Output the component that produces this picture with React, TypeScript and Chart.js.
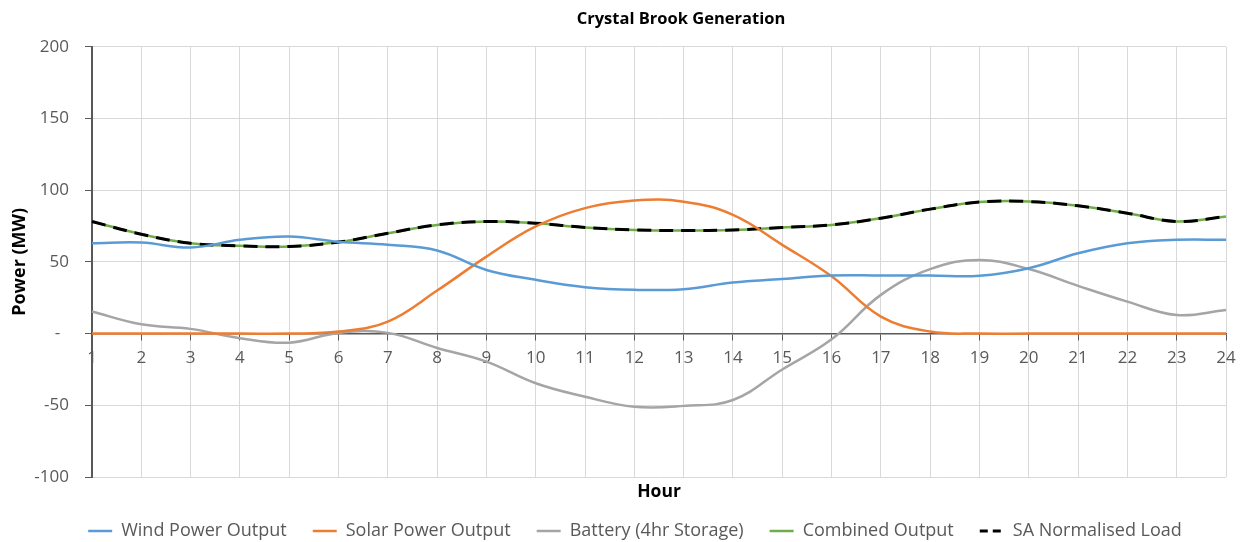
import React, { useEffect, useRef } from 'react';
import { Chart, registerables } from 'chart.js';

Chart.register(...registerables);

const hours = ['1', '2', '3', '4', '5', '6', '7', '8', '9', '10', '11', '12', '13', '14', '15', '16', '17', '18', '19', '20', '21', '22', '23', '24'];
const windOutput = [63, 63.5, 60, 65.4, 67.7, 64, 62, 58, 44.4, 37.5, 32.4, 30.5, 31, 35.6, 38, 40.5, 40.5, 40.5, 40.3, 45.6, 56, 63, 65.4, 65.4];
const solarOutput = [0, 0, 0, 0, 0, 1.4, 8.4, 30, 53.7, 74.7, 87.5, 92.8, 92, 82.8, 61.9, 40, 11.9, 1.4, 0, 0, 0, 0, 0, 0];
const batteryOutput = [15.4, 6.5, 3.3, -3.2, -6.3, 0.5, 0.5, -10, -19.5, -34.6, -44, -51, -50.4, -46.3, -25, -4, 27, 45, 51.4, 45, 33.3, 22.3, 13, 16.5];
const combinedOutput = [78.2, 69.3, 63, 61.2, 60.7, 63.8, 70, 75.8, 78.2, 77, 74, 72.3, 71.9, 72.3, 74, 75.8, 80.5, 86.8, 91.7, 92.1, 89.1, 84, 78.2, 81.6];
const saNormalisedLoad = [78.2, 69.3, 63, 61.2, 60.7, 63.8, 70, 75.8, 78.2, 77, 74, 72.3, 71.9, 72.3, 74, 75.8, 80.5, 86.8, 91.7, 92.1, 89.1, 84, 78.2, 81.6];

const FONT = "'Open Sans', 'DejaVu Sans', sans-serif";
const AXIS_GREY = '#595959';
const GRID_GREY = '#d9d9d9';

// Moves the title and legend boxes after Chart.js has laid them out,
// and writes the x-axis title ("Hour") under the plot.
const placementPlugin = {
  id: 'placement',
  afterLayout(chart: any) {
    const lg = chart.legend;
    if (lg) {
      lg.left += 22;
      lg.right += 22;
      lg.top += 8;
      lg.bottom += 8;
    }
    const tb = chart.titleBlock;
    if (tb) {
      tb.left += 68;
      tb.right += 68;
    }
  },
  afterDraw(chart: any) {
    const { ctx, chartArea } = chart;
    ctx.save();
    ctx.fillStyle = '#000000';
    ctx.font = `bold 17.5px ${FONT}`;
    ctx.textAlign = 'center';
    ctx.textBaseline = 'middle';
    ctx.fillText('Hour', (chartArea.left + chartArea.right) / 2, chartArea.bottom + 15);
    ctx.restore();
  },
};

export default function App() {
  const ref = useRef<HTMLCanvasElement>(null);

  useEffect(() => {
    if (!ref.current) return;
    const common = { borderWidth: 2.5, pointRadius: 0, pointHoverRadius: 0, tension: 0.4, fill: false };
    const chart = new Chart(ref.current, {
      type: 'line',
      data: {
        labels: hours,
        datasets: [
          { ...common, label: 'Wind Power Output', data: windOutput, borderColor: '#5B9BD5', backgroundColor: '#5B9BD5', order: 0 },
          { ...common, label: 'Solar Power Output', data: solarOutput, borderColor: '#ED7D31', backgroundColor: '#ED7D31', order: 0 },
          { ...common, label: 'Battery (4hr Storage)', data: batteryOutput, borderColor: '#A5A5A5', backgroundColor: '#A5A5A5', order: 0 },
          { ...common, label: 'Combined Output', data: combinedOutput, borderColor: '#70AD47', backgroundColor: '#70AD47', order: 1 },
          { ...common, label: 'SA Normalised Load', data: saNormalisedLoad, borderColor: '#000000', backgroundColor: '#000000', borderWidth: 3, borderDash: [14, 8], order: 0 },
        ],
      },
      options: {
        responsive: false,
        maintainAspectRatio: false,
        animation: false,
        events: [],
        layout: { padding: { left: 0, right: 26, top: 0, bottom: 0 } },
        plugins: {
          tooltip: { enabled: false },
          title: {
            display: true,
            text: 'Crystal Brook Generation',
            color: '#000000',
            font: { family: FONT, size: 16.5, weight: 'bold' },
            padding: { top: 9, bottom: 18 },
          },
          legend: {
            display: true,
            position: 'bottom',
            labels: {
              color: AXIS_GREY,
              font: { family: FONT, size: 18 },
              usePointStyle: true,
              pointStyle: 'line',
              pointStyleWidth: 24,
              boxHeight: 3,
              padding: 26,
              sort: (a: any, b: any) => a.datasetIndex - b.datasetIndex,
              generateLabels: (c: any) => {
                const items = Chart.defaults.plugins.legend.labels.generateLabels(c);
                items.forEach((it: any) => {
                  const ds: any = c.data.datasets[it.datasetIndex];
                  it.lineDash = ds.borderDash ? [8, 5] : [];
                  it.lineWidth = ds.borderWidth;
                  it.strokeStyle = ds.borderColor;
                });
                return items;
              },
            },
          },
        },
        scales: {
          x: {
            type: 'category',
            offset: false,
            position: { y: 0 },
            grid: { color: GRID_GREY, lineWidth: 1, tickColor: AXIS_GREY, tickLength: 6, drawTicks: true },
            border: { display: true, color: AXIS_GREY, width: 1.5 },
            ticks: { color: AXIS_GREY, font: { family: FONT, size: 17 }, padding: 8, maxRotation: 0, autoSkip: false },
          },
          x2: {
            type: 'category',
            position: 'bottom',
            display: true,
            grid: { display: false, drawTicks: false },
            border: { display: false },
            ticks: { display: false },
            afterFit: (s: any) => { s.height = 11; },
          },
          y: {
            min: -100,
            max: 200,
            grid: { color: GRID_GREY, lineWidth: 1, tickColor: AXIS_GREY, tickLength: 7 },
            border: { display: true, color: AXIS_GREY, width: 2 },
            ticks: {
              stepSize: 50,
              color: AXIS_GREY,
              font: { family: FONT, size: 17 },
              padding: 16,
              callback: (v: any) => (Number(v) === 0 ? '-  ' : String(v)),
            },
            title: {
              display: true,
              text: 'Power (MW)',
              color: '#000000',
              font: { family: FONT, size: 18, weight: 'bold' },
              padding: { top: 9, bottom: 0 },
            },
            afterFit: (s: any) => { s.width = 92; },
          },
        },
      },
      plugins: [placementPlugin],
    });
    return () => chart.destroy();
  }, []);

  return (
    <div style={{ position: 'absolute', left: 0, top: 0, width: 1252, height: 542, background: '#ffffff' }}>
      <canvas ref={ref} width={1252} height={542} style={{ display: 'block' }} />
    </div>
  );
}
